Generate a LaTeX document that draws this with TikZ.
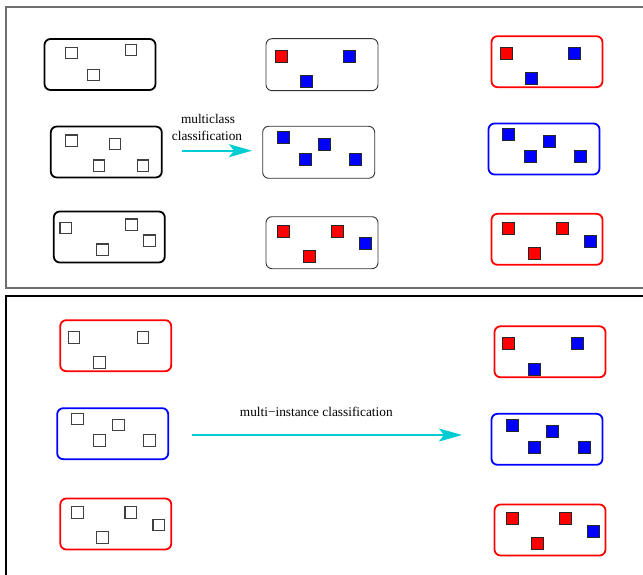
\documentclass[tikz,border=0pt]{standalone}
\usepackage{fontspec}
\setmainfont{Liberation Serif}
\usetikzlibrary{arrows.meta}
\definecolor{arrowcyan}{RGB}{0,204,210}
\definecolor{framegray}{RGB}{110,110,110}
\tikzset{
  bag/.style={draw, rounded corners=6pt, fill=white, minimum width=111pt, minimum height=51pt, inner sep=0pt, outer sep=0pt},
  thickbag/.style={bag, line width=1.8pt},
  thinbag/.style={bag, line width=0.9pt, draw=black!80, minimum width=112pt, minimum height=52pt},
  redbag/.style={thickbag, draw=red},
  bluebag/.style={thickbag, draw=blue},
  inst/.style={draw=black!75, line width=1.1pt, fill=white, minimum size=11.6pt, inner sep=0pt, outer sep=0pt, anchor=north west},
  rinst/.style={inst, fill=red, draw=black!85, line width=0.8pt, minimum size=12pt},
  binst/.style={inst, fill=blue, draw=black!85, line width=0.8pt, minimum size=12pt},
  flow/.style={draw=arrowcyan, line width=2pt, -{Stealth[length=23pt, width=13pt, inset=5pt]}},
  lbl/.style={font=\fontsize{13.3pt}{16pt}\selectfont, inner sep=0pt}
}
\begin{document}
\begin{tikzpicture}[x=1pt, y=-1pt]
\useasboundingbox (0,0) rectangle (643,575);
\clip (0,0) rectangle (643,575);
% frames
\draw[framegray, line width=1.2pt] (6,7) rectangle (660,288);
\draw[black, line width=1.2pt] (6,296) rectangle (660,600);

% ---------- top panel ----------
\node[thickbag] (L1) at (100,64.5) {};
\node[thinbag]  (M1) at (322,64.7) {};
\node[redbag]   (R1) at (547,61.7) {};
\node[thickbag] (L2) at (106.3,152) {};
\node[thinbag]  (M2) at (318.7,152.3) {};
\node[bluebag]  (R2) at (544,149) {};
\node[thickbag] (L3) at (109.3,237) {};
\node[thinbag]  (M3) at (322,242.7) {};
\node[redbag]   (R3) at (547,239.3) {};

% L1
\node[inst] (l1a) at (65.7,47.3) {};
\node[inst] (l1b) at (125.3,44.3) {};
\node[inst] (l1c) at (87.7,69.3) {};
% M1
\node[rinst] (m1a) at (275,50.7) {};
\node[binst] (m1b) at (343.7,50.7) {};
\node[binst] (m1c) at (300,75) {};
% R1
\node[rinst] (r1a) at (500,47.3) {};
\node[binst] (r1b) at (568.7,47.3) {};
\node[binst] (r1c) at (525,72.3) {};
% L2
\node[inst] (l2a) at (65.7,135) {};
\node[inst] (l2b) at (109.3,138.3) {};
\node[inst] (l2c) at (93.3,160) {};
\node[inst] (l2d) at (137.3,160) {};
% M2
\node[binst] (m2a) at (277.7,131.7) {};
\node[binst] (m2b) at (318.3,138.3) {};
\node[binst] (m2c) at (299.7,153.7) {};
\node[binst] (m2d) at (349.7,153.7) {};
% R2
\node[binst] (r2a) at (502.7,128.3) {};
\node[binst] (r2b) at (543.3,135) {};
\node[binst] (r2c) at (524.7,150.3) {};
\node[binst] (r2d) at (574.7,150.3) {};
% L3
\node[inst] (l3a) at (60,222.3) {};
\node[inst] (l3b) at (125.7,219) {};
\node[inst] (l3c) at (143.7,235) {};
\node[inst] (l3d) at (96.7,244) {};
% M3
\node[rinst] (m3a) at (277.7,225) {};
\node[rinst] (m3b) at (331.7,225) {};
\node[binst] (m3c) at (359.3,237.7) {};
\node[rinst] (m3d) at (303,250.3) {};
% R3
\node[rinst] (r3a) at (502.7,222.3) {};
\node[rinst] (r3b) at (556.3,222.3) {};
\node[binst] (r3c) at (584.3,235) {};
\node[rinst] (r3d) at (528,247.3) {};

% multiclass arrow
\coordinate (mcS) at (181.5,150.7);
\coordinate (mcE) at (252,150.7);
\draw[flow] (mcS) -- (mcE);
\node[lbl] (mcT1) at (208,119) {multiclass};
\node[lbl] (mcT2) at (207,135.5) {classification};

% ---------- bottom panel ----------
\node[redbag]  (BL1) at (115.7,345.7) {};
\node[redbag]  (BR1) at (550,351.8) {};
\node[bluebag] (BL2) at (112.7,433.7) {};
\node[bluebag] (BR2) at (547,439.3) {};
\node[redbag]  (BL3) at (115.8,524) {};
\node[redbag]  (BR3) at (550,530) {};

% BL1
\node[inst] (bl1a) at (68.3,331.7) {};
\node[inst] (bl1b) at (137.3,331.7) {};
\node[inst] (bl1c) at (93.7,356.7) {};
% BR1
\node[rinst] (br1a) at (502.7,337.7) {};
\node[binst] (br1b) at (571.7,337.7) {};
\node[binst] (br1c) at (528,363) {};
% BL2
\node[inst] (bl2a) at (71.7,413.3) {};
\node[inst] (bl2b) at (112.7,419.3) {};
\node[inst] (bl2c) at (93.7,434.7) {};
\node[inst] (bl2d) at (143.7,434.7) {};
% BR2
\node[binst] (br2a) at (506,419) {};
\node[binst] (br2b) at (546.7,425) {};
\node[binst] (br2c) at (528,441) {};
\node[binst] (br2d) at (578,441) {};
% BL3
\node[inst] (bl3a) at (71.7,506.7) {};
\node[inst] (bl3b) at (125,506.7) {};
\node[inst] (bl3c) at (153,519.3) {};
\node[inst] (bl3d) at (96.7,531.7) {};
% BR3
\node[rinst] (br3a) at (506,512.7) {};
\node[rinst] (br3b) at (559,512.7) {};
\node[binst] (br3c) at (587.3,525) {};
\node[rinst] (br3d) at (531,537.7) {};

% multi-instance arrow
\coordinate (miS) at (191.5,435);
\coordinate (miE) at (462,435);
\draw[flow] (miS) -- (miE);
\node[lbl] (miT) at (316.3,411.5) {multi−instance classification};
\end{tikzpicture}
\end{document}
